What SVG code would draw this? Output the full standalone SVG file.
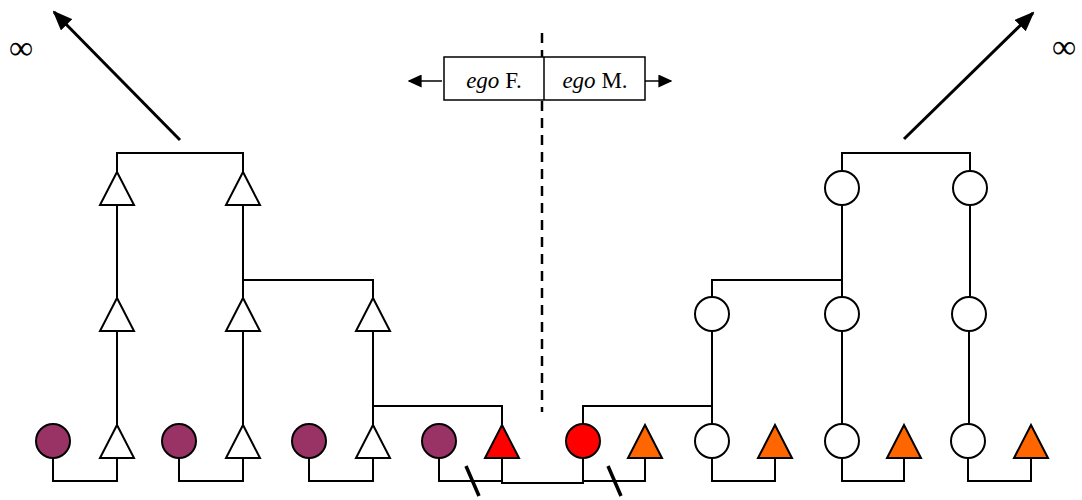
<svg xmlns="http://www.w3.org/2000/svg" width="1082" height="500" viewBox="0 0 1082 500">
<defs>
<marker id="big" viewBox="0 0 10 10" refX="9" refY="5" markerWidth="20" markerHeight="16" markerUnits="userSpaceOnUse" orient="auto" preserveAspectRatio="none">
<path d="M0,0 L10,5 L0,10 z" fill="#000"/>
</marker>
<marker id="small" viewBox="0 0 10 10" refX="9" refY="5" markerWidth="14" markerHeight="13" markerUnits="userSpaceOnUse" orient="auto" preserveAspectRatio="none">
<path d="M0,0 L10,5 L0,10 z" fill="#000"/>
</marker>
</defs>
<style>
.ln{fill:none;stroke:#000;stroke-width:2}
.tri{stroke:#000;stroke-width:2;stroke-linejoin:miter}
.cir{stroke:#000;stroke-width:2}
.w{fill:#fff}
.p{fill:#993366}
.r{fill:#ff0000}
.o{fill:#ff6600}
.t{font-family:"Liberation Serif","Times New Roman",serif;font-size:23px;fill:#000}
.inf{font-family:"Liberation Serif","Times New Roman",serif;font-size:34px;fill:#000}
</style>
<rect width="1082" height="500" fill="#fff"/>

<g id="connectors">
<path class="ln" d="M117,172 V153 H243 V172"/>
<path class="ln" d="M117,205 V298 M117,331 V425"/>
<path class="ln" d="M243,205 V298 M243,331 V425 M243,280 H373 V298"/>
<path class="ln" d="M373,331 V425 M373,406 H502 V425"/>
<path class="ln" d="M53,458 V481 H117 V458 M179,458 V481 H243 V458 M309,458 V481 H373 V458 M439,458 V481 H502 V458"/>
<path class="ln" d="M502,458 V483 H583 V458"/>
<path class="ln" d="M842,171 V153 H970 V171"/>
<path class="ln" d="M842,205 V297 M842,331 V424 M712,297 V280 H842"/>
<path class="ln" d="M712,331 V424 M583,424 V406 H712"/>
<path class="ln" d="M970,205 V297 M969,331 V424"/>
<path class="ln" d="M583,458 V481 H645 V458 M712,458 V481 H775 V458 M842,458 V481 H904 V458 M968,458 V481 H1031 V458"/>
<path fill="none" stroke="#000" stroke-width="3" d="M180,140 L54,12" marker-end="url(#big)"/>
<path fill="none" stroke="#000" stroke-width="3" d="M904,139 L1033,13" marker-end="url(#big)"/>
<path fill="none" stroke="#000" stroke-width="3.5" d="M466,466 L479,496 M608,466 L621,496"/>
<path fill="none" stroke="#000" stroke-width="2.5" stroke-dasharray="10,7" d="M542,33 V412"/>
</g>

<g id="ego-box">
<rect x="444" y="57" width="201" height="43" fill="#fff" stroke="#000" stroke-width="1.5"/>
<line x1="544" y1="57" x2="544" y2="100" stroke="#000" stroke-width="1.5"/>
<text class="t" x="494" y="88" text-anchor="middle"><tspan font-style="italic">ego</tspan> F.</text>
<text class="t" x="595" y="88" text-anchor="middle"><tspan font-style="italic">ego</tspan> M.</text>
<path fill="none" stroke="#000" stroke-width="1.5" d="M442,81 H409" marker-end="url(#small)"/>
<path fill="none" stroke="#000" stroke-width="1.5" d="M645,81 H671" marker-end="url(#small)"/>
</g>

<g id="inf-left"><text class="inf" x="21" y="59" text-anchor="middle">∞</text></g>
<g id="inf-right"><text class="inf" x="1064" y="58" text-anchor="middle">∞</text></g>

<g id="m-top-1"><polygon class="tri w" points="117,172 100,205 134,205"/></g>
<g id="m-top-2"><polygon class="tri w" points="243,172 226,205 260,205"/></g>
<g id="m-mid-1"><polygon class="tri w" points="117,298 100,331 134,331"/></g>
<g id="m-mid-2"><polygon class="tri w" points="243,298 226,331 260,331"/></g>
<g id="m-mid-3"><polygon class="tri w" points="373,298 356,331 390,331"/></g>

<g id="f-b-1"><circle class="cir p" cx="53" cy="441" r="17"/></g>
<g id="m-b-1"><polygon class="tri w" points="117,425 100,458 134,458"/></g>
<g id="f-b-2"><circle class="cir p" cx="179" cy="441" r="17"/></g>
<g id="m-b-2"><polygon class="tri w" points="243,425 226,458 260,458"/></g>
<g id="f-b-3"><circle class="cir p" cx="309" cy="441" r="17"/></g>
<g id="m-b-3"><polygon class="tri w" points="373,425 356,458 390,458"/></g>
<g id="f-b-4"><circle class="cir p" cx="439" cy="441" r="17"/></g>
<g id="ego-m"><polygon class="tri r" points="502,425 485,458 519,458"/></g>

<g id="ego-f"><circle class="cir r" cx="583" cy="441" r="17"/></g>
<g id="m-o-1"><polygon class="tri o" points="645,425 628,458 662,458"/></g>
<g id="f-w-1"><circle class="cir w" cx="712" cy="441" r="17"/></g>
<g id="m-o-2"><polygon class="tri o" points="775,425 758,458 792,458"/></g>
<g id="f-w-2"><circle class="cir w" cx="842" cy="441" r="17"/></g>
<g id="m-o-3"><polygon class="tri o" points="904,425 887,458 921,458"/></g>
<g id="f-w-3"><circle class="cir w" cx="968" cy="441" r="17"/></g>
<g id="m-o-4"><polygon class="tri o" points="1031,425 1014,458 1048,458"/></g>

<g id="f-mid-1"><circle class="cir w" cx="712" cy="314" r="17"/></g>
<g id="f-mid-2"><circle class="cir w" cx="842" cy="314" r="17"/></g>
<g id="f-mid-3"><circle class="cir w" cx="969" cy="314" r="17"/></g>
<g id="f-top-1"><circle class="cir w" cx="842" cy="188" r="17"/></g>
<g id="f-top-2"><circle class="cir w" cx="970" cy="188" r="17"/></g>
</svg>
